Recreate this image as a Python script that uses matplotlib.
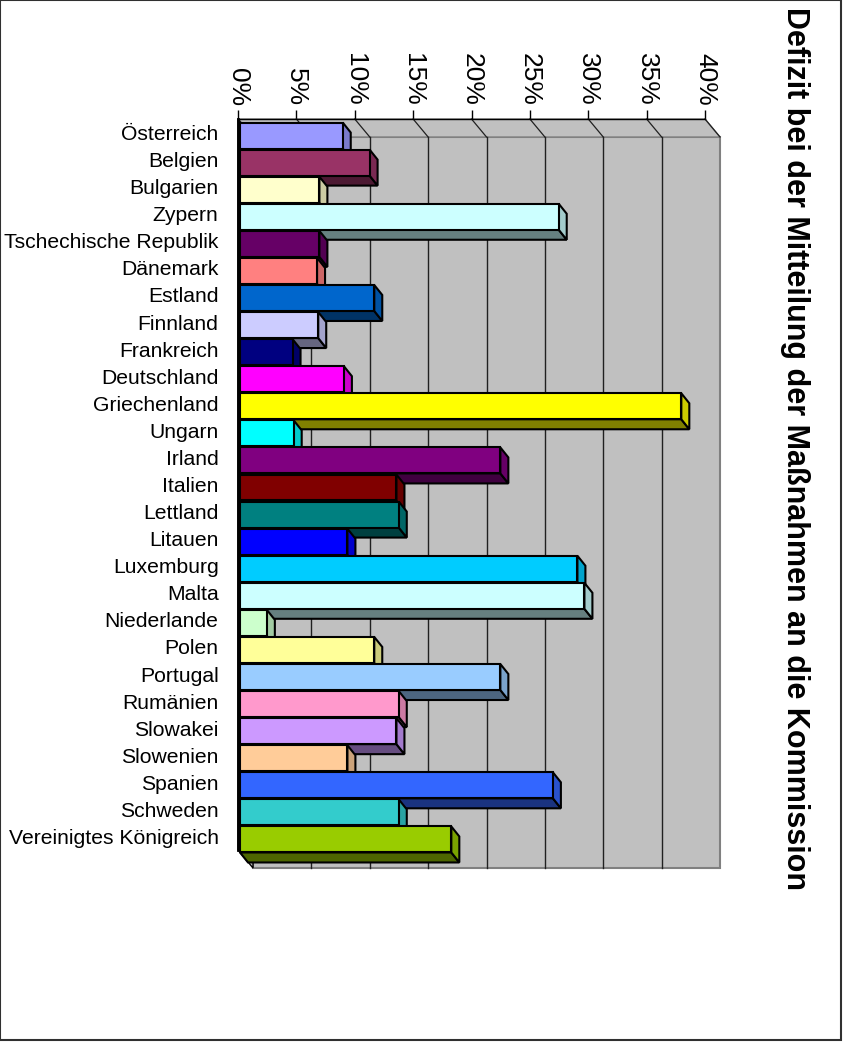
import numpy as np
import matplotlib
matplotlib.use("Agg")
import matplotlib.pyplot as plt
from matplotlib.patches import Polygon, Rectangle
from matplotlib.lines import Line2D
from matplotlib.colors import to_rgb

plt.rcParams['font.family'] = ['Liberation Sans', 'DejaVu Sans']

countries = ["Österreich", "Belgien", "Bulgarien", "Zypern", "Tschechische Republik",
             "Dänemark", "Estland", "Finnland", "Frankreich", "Deutschland",
             "Griechenland", "Ungarn", "Irland", "Italien", "Lettland", "Litauen",
             "Luxemburg", "Malta", "Niederlande", "Polen", "Portugal", "Rumänien",
             "Slowakei", "Slowenien", "Spanien", "Schweden", "Vereinigtes Königreich"]
values = [8.8, 11.1, 6.8, 27.3, 6.8, 6.6, 11.5, 6.7, 4.5, 8.9, 37.8, 4.6, 22.3,
          13.4, 13.6, 9.2, 28.9, 29.5, 2.3, 11.5, 22.3, 13.6, 13.4, 9.2, 26.8,
          13.6, 18.1]
colors = ["#9999FF", "#993366", "#FFFFCC", "#CCFFFF", "#660066", "#FF8080",
          "#0066CC", "#CCCCFF", "#000080", "#FF00FF", "#FFFF00", "#00FFFF",
          "#800080", "#800000", "#008080", "#0000FF", "#00CCFF", "#CCFFFF",
          "#CCFFCC", "#FFFF99", "#99CCFF", "#FF99CC", "#CC99FF", "#FFCC99",
          "#3366FF", "#33CCCC", "#99CC00"]
xticks = [0, 5, 10, 15, 20, 25, 30, 35, 40]
xtick_labels = [f"{t}%" for t in xticks]
title = "Defizit bei der Mitteilung der Maßnahmen an die Kommission"

W, H = 846, 1044
fig = plt.figure(figsize=(W / 100, H / 100), dpi=100)
ax = fig.add_axes([238 / W, (H - 850) / H, 467 / W, 731 / H])
n = len(countries)
ax.set_xlim(0, 40)
ax.set_ylim(n - 0.5, -0.5)

# pixel -> data conversions
p0 = ax.transData.transform((0, 0))
p1 = ax.transData.transform((1, 1))
ppx = p1[0] - p0[0]
ppy = p0[1] - p1[1]
wdx, wdy = 15 / ppx, 18 / ppy   # wall depth
bdx, bdy = 8 / ppx, 10 / ppy    # bar depth
fdx, fdy = 2 / ppx, 3 / ppy     # bar front-face offset from front plane

wall = "#C0C0C0"
ytop, ybot = -0.5, n - 0.5
# back wall
ax.add_patch(Polygon([(wdx, ytop + wdy), (40 + wdx, ytop + wdy), (40 + wdx, ybot + wdy),
                      (wdx, ybot + wdy)], closed=True, facecolor=wall, edgecolor="#808080",
                     lw=1.5, clip_on=False, zorder=1))
# top strip
ax.add_patch(Polygon([(0, ytop), (40, ytop), (40 + wdx, ytop + wdy), (wdx, ytop + wdy)],
                     closed=True, facecolor=wall, edgecolor="#808080", lw=1.0,
                     clip_on=False, zorder=1))
# left floor
ax.add_patch(Polygon([(0, ytop), (wdx, ytop + wdy), (wdx, ybot + wdy), (0, ybot)],
                     closed=True, facecolor=wall, edgecolor="black", lw=1.0,
                     clip_on=False, zorder=1))
# gridlines
for t in xticks[1:-1]:
    ax.add_line(Line2D([t + wdx, t + wdx], [ytop + wdy, ybot + wdy], color="#202020",
                       lw=1.0, clip_on=False, zorder=2))
for t in xticks:
    ax.add_line(Line2D([t, t + wdx], [ytop, ytop + wdy], color="#202020",
                       lw=0.9, clip_on=False, zorder=2))
ax.add_line(Line2D([0, 40], [ytop, ytop], color="black", lw=1.0, clip_on=False, zorder=3))

# bars
bh = 0.96
ypos = np.arange(n) + fdy
bars = ax.barh(ypos, values, height=bh, left=fdx, color=colors, edgecolor="black",
               linewidth=1.5, clip_on=False)
for i, (v, c, patch) in enumerate(zip(values, colors, bars)):
    rgb = np.array(to_rgb(c))
    yt, yb = ypos[i] - bh / 2, ypos[i] + bh / 2
    x0, x1 = fdx, fdx + v
    base = 10 + 3 * i
    ax.add_patch(Polygon([(x0, yb), (x1, yb), (x1 + bdx, yb + bdy), (x0 + bdx, yb + bdy)],
                         closed=True, facecolor=rgb * 0.5, edgecolor="black", lw=1.5,
                         joinstyle="miter", clip_on=False, zorder=base))
    ax.add_patch(Polygon([(x1, yt), (x1 + bdx, yt + bdy), (x1 + bdx, yb + bdy), (x1, yb)],
                         closed=True, facecolor=rgb * 0.8, edgecolor="black", lw=1.5,
                         joinstyle="miter", clip_on=False, zorder=base + 1))
    patch.set_zorder(base + 2)

ax.add_line(Line2D([0, 0], [ytop, ybot], color="black", lw=2.0, clip_on=False, zorder=200))

for s in ax.spines.values():
    s.set_visible(False)
ax.patch.set_visible(False)

ax.xaxis.set_ticks_position('top')
ax.set_xticks(xticks)
ax.set_xticklabels(xtick_labels)
ax.tick_params(axis='x', direction='out', length=6.5, width=1.0, labelsize=19,
               labelrotation=-90, pad=3, top=True, bottom=False, labeltop=True,
               labelbottom=False)
ax.set_yticks(range(n))
ax.set_yticklabels(countries)
ax.tick_params(axis='y', length=0, pad=14, labelsize=15.2)

fig.text(795 / W, 1 - 449 / H, title, rotation=-90, fontsize=22, fontweight='bold',
         ha='center', va='center')

fig.patches.append(Rectangle((0, (H - 1040) / H), 841 / W, 1040 / H, transform=fig.transFigure,
                             fill=False, edgecolor="#303030", lw=1.5))

fig.savefig("out.png", dpi=100)
